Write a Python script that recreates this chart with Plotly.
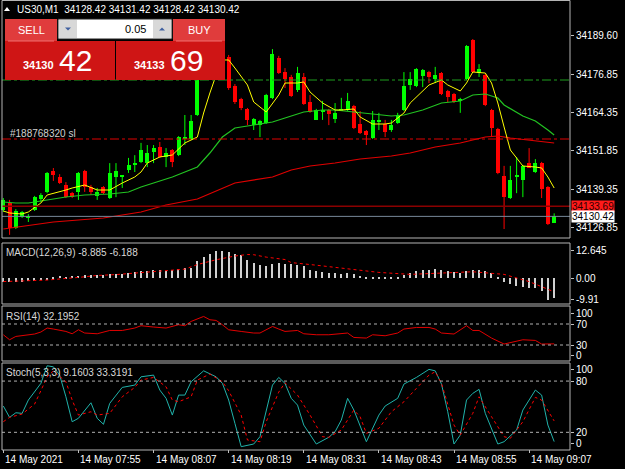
import plotly.graph_objects as go

# ---------------- data ----------------
# candle index 0 = 14 May 2021 07:43 (M1 bars)
bar_open = [34132.5, 34134.8, 34126.6, 34130.2, 34129.9, 34132.5, 34136.1, 34138.4, 34145.2, 34143.3,
            34140.7, 34138.0, 34138.4, 34145.2, 34140.0, 34137.1, 34140.0, 34136.4, 34143.3, 34143.3,
            34145.6, 34147.5, 34148.2, 34147.8, 34151.4, 34153.1, 34149.8, 34152.1, 34150.5, 34155.7,
            34155.7, 34163.5, 34177.5, 34183.1, 34186.0, 34183.1, 34182.4, 34173.0, 34168.7, 34165.5,
            34160.2, 34160.2, 34160.9, 34169.1, 34182.1, 34177.5, 34175.9, 34171.7, 34175.9, 34167.7,
            34161.9, 34164.8, 34165.1, 34162.2, 34165.1, 34165.1, 34166.4, 34160.6, 34158.3, 34156.0,
            34161.5, 34160.6, 34158.6, 34160.9, 34165.1, 34173.3, 34173.0, 34176.2, 34177.5, 34175.3,
            34177.2, 34171.3, 34170.4, 34168.1, 34175.3, 34188.0, 34177.2, 34176.6, 34165.1, 34158.9,
            34143.6, 34136.4, 34143.3, 34142.3, 34147.8, 34144.9, 34147.8, 34140.0, 34128.42]
bar_high = [34136.4, 34135.8, 34132.8, 34132.2, 34131.2, 34137.1, 34138.0, 34144.9, 34146.2, 34144.2,
            34141.6, 34138.4, 34144.9, 34145.6, 34140.7, 34139.7, 34140.3, 34147.8, 34147.8, 34143.9,
            34149.5, 34150.4, 34154.4, 34153.7, 34153.7, 34154.7, 34152.7, 34152.4, 34156.6, 34163.5,
            34163.5, 34178.2, 34184.7, 34188.0, 34188.0, 34186.7, 34183.1, 34173.6, 34169.1, 34165.8,
            34162.5, 34161.9, 34170.4, 34185.0, 34182.8, 34178.8, 34176.6, 34179.2, 34177.2, 34170.0,
            34165.5, 34168.1, 34165.5, 34167.4, 34169.1, 34170.7, 34166.8, 34164.8, 34158.6, 34164.8,
            34164.2, 34161.9, 34161.9, 34164.2, 34177.5, 34177.5, 34178.8, 34178.5, 34177.9, 34179.2,
            34177.5, 34171.7, 34170.7, 34169.1, 34186.3, 34188.3, 34180.1, 34176.9, 34165.5, 34159.3,
            34146.9, 34146.9, 34149.8, 34147.2, 34152.7, 34149.1, 34148.2, 34140.3, 34131.42]
bar_low = [34131.9, 34124.4, 34126.3, 34129.9, 34128.6, 34132.2, 34135.1, 34138.0, 34142.0, 34141.0,
           34136.4, 34136.4, 34135.8, 34138.4, 34137.4, 34135.8, 34137.7, 34136.1, 34136.7, 34139.7,
           34144.6, 34144.9, 34147.8, 34146.5, 34147.8, 34149.5, 34146.5, 34146.5, 34150.1, 34153.7,
           34155.3, 34163.2, 34176.6, 34182.1, 34182.8, 34182.4, 34171.7, 34167.1, 34165.1, 34160.2,
           34158.6, 34156.3, 34160.6, 34168.7, 34176.9, 34172.3, 34169.4, 34171.0, 34166.8, 34164.2,
           34161.9, 34161.9, 34160.2, 34160.9, 34165.1, 34164.8, 34158.9, 34157.3, 34153.7, 34155.7,
           34158.6, 34156.3, 34158.0, 34160.6, 34164.8, 34171.7, 34172.6, 34172.6, 34173.9, 34173.9,
           34170.0, 34167.7, 34167.4, 34164.2, 34174.9, 34177.2, 34175.9, 34166.4, 34156.3, 34144.2,
           34126.3, 34136.1, 34138.0, 34136.7, 34146.2, 34144.6, 34136.4, 34127.6, 34128.42]
bar_close = [34135.8, 34126.6, 34132.2, 34131.9, 34130.5, 34136.7, 34137.4, 34144.6, 34143.9, 34141.3,
             34136.7, 34136.7, 34144.6, 34140.0, 34138.4, 34138.4, 34138.0, 34144.6, 34145.2, 34143.6,
             34147.2, 34147.8, 34152.1, 34151.1, 34152.7, 34149.8, 34151.1, 34148.2, 34156.3, 34156.3,
             34161.5, 34177.5, 34183.1, 34186.3, 34184.1, 34185.4, 34172.3, 34167.7, 34165.8, 34161.9,
             34162.2, 34161.5, 34170.0, 34183.4, 34177.2, 34175.3, 34169.7, 34177.2, 34167.1, 34164.5,
             34165.1, 34165.1, 34163.8, 34164.2, 34165.5, 34168.1, 34159.3, 34157.6, 34157.0, 34161.9,
             34161.9, 34158.0, 34160.2, 34163.5, 34173.0, 34175.3, 34178.5, 34178.2, 34175.9, 34176.6,
             34170.4, 34169.4, 34167.7, 34168.4, 34186.0, 34177.5, 34178.5, 34166.8, 34159.3, 34144.6,
             34136.7, 34142.3, 34143.6, 34146.9, 34146.2, 34147.8, 34139.4, 34127.9, 34130.42]

# moving averages: (bar index, price)
ma_fast_idx = [0, 1, 3, 4, 6, 7, 10, 11, 13, 15, 17, 19, 21, 22, 23, 25, 27, 29, 31, 32, 33, 34, 35, 36, 37,
               39, 40, 42, 44, 45, 47, 48, 49, 51, 53, 54, 56, 57, 59, 61, 62, 64, 65, 68, 70, 71, 73, 74,
               75, 77, 78, 79, 80, 81, 82, 83, 85, 86, 87, 88]
ma_fast_val = [34132.18, 34131.53, 34131.20, 34131.85, 34134.79, 34137.40, 34139.03, 34139.68, 34140.66,
               34139.03, 34139.03, 34141.31, 34143.27, 34144.90, 34147.84, 34149.80, 34150.45, 34154.36,
               34156.32, 34164.15, 34170.68, 34176.55, 34181.45, 34181.45, 34178.83, 34173.29, 34167.74,
               34164.48, 34170.03, 34173.94, 34173.94, 34174.27, 34171.00, 34167.42, 34165.13, 34165.13,
               34165.46, 34162.85, 34160.56, 34160.56, 34160.89, 34164.15, 34167.42, 34173.29, 34174.92,
               34173.29, 34171.33, 34173.94, 34177.53, 34177.20, 34173.94, 34167.42, 34159.59, 34152.08,
               34149.47, 34146.86, 34146.53, 34146.21, 34143.27, 34139.68]
ma_mid_idx = [0, 2, 4, 7, 10, 13, 17, 20, 22, 24, 27, 31, 33, 35, 37, 40, 43, 45, 48, 51, 53, 56, 59, 62,
              64, 67, 70, 73, 75, 77, 79, 80, 83, 85, 87, 88]
ma_mid_val = [34135.12, 34134.79, 34134.79, 34135.77, 34136.75, 34137.40, 34137.73, 34138.38, 34140.01,
              34141.31, 34143.27, 34146.53, 34151.10, 34156.32, 34159.26, 34160.24, 34161.22, 34162.52,
              34164.48, 34165.13, 34165.13, 34164.48, 34163.83, 34163.17, 34163.50, 34165.13, 34167.42,
              34168.07, 34170.03, 34170.35, 34169.05, 34166.76, 34163.17, 34161.54, 34158.61, 34156.97]
ma_slow_idx = [0, 8, 16, 22, 26, 31, 37, 43, 46, 49, 53, 57, 62, 65, 69, 73, 77, 79, 81, 85, 88]
ma_slow_val = [34126.31, 34128.59, 34129.90, 34131.85, 34134.14, 34136.09, 34141.31, 34143.27, 34145.56,
               34146.86, 34147.84, 34149.14, 34150.12, 34151.10, 34153.06, 34154.36, 34156.32, 34156.65,
               34156.00, 34155.02, 34154.36]

macd_main = [-1.8, -1.8, -1.8, -1.8, -1.4, -1.4, -1.0, -0.5, 0.7, 1.0,
             0.7, 1.0, 1.0, 1.4, 1.4, 1.4, 1.7, 2.1, 1.8, 2.1,
             2.4, 2.9, 3.5, 3.5, 3.8, 3.8, 3.5, 3.8, 4.2, 4.9,
             4.6, 7.8, 9.9, 11.3, 12.645, 12.6, 12.0, 11.3, 10.9, 8.5,
             7.0, 6.1, 5.6, 6.6, 7.0, 6.6, 6.4, 6.1, 5.6, 3.8,
             3.2, 3.0, 2.6, 2.3, 2.2, 2.4, 1.8, 1.0, 0.5, 0.6,
             0.6, 0.4, 0.4, 0.6, 1.6, 2.4, 3.2, 3.8, 4.0, 4.2,
             3.8, 3.3, 2.8, 2.4, 3.5, 3.8, 4.0, 3.4, 2.4, 0.6,
             -1.5, -2.7, -3.6, -4.0, -4.4, -4.6, -5.6, -9.91, -8.885]
macd_sig_idx = [0, 7, 12, 15, 18, 22, 25, 29, 31, 34, 37, 39, 40, 42, 45, 46, 50, 55, 60, 65, 70, 75, 80, 84, 88]
macd_sig_val = [-1.5, -0.8, 0.4, 1.3, 1.7, 2.5, 3.2, 4.2, 6.3, 8.5, 10.2, 10.9, 10.8, 9.7, 8.6, 7.2, 6.0,
                4.5, 2.7, 1.8, 2.5, 3.0, 1.8, -1.5, -6.188]

rsi_idx = [0, 1, 2, 3, 5, 6, 7, 8, 10, 11, 12, 13, 15, 17, 19, 21, 22, 24, 26, 28, 29, 30, 32, 33, 34, 35,
           36, 38, 40, 41, 43, 44, 45, 47, 48, 50, 52, 55, 56, 58, 59, 61, 63, 64, 66, 68, 69, 70, 72, 74,
           75, 76, 78, 80, 81, 83, 85, 86, 88]
rsi_val = [49.5, 40.0, 46.3, 47.6, 50.9, 54.7, 62.3, 60.4, 55.8, 51.4, 59.0, 52.8, 51.4, 57.7, 57.7, 62.3,
           66.7, 64.2, 62.3, 68.6, 66.7, 74.9, 84.4, 78.1, 76.8, 68.6, 59.0, 55.8, 52.8, 52.8, 65.3, 60.4,
           55.8, 57.7, 51.4, 49.5, 49.5, 52.8, 44.4, 43.2, 49.5, 47.6, 52.8, 60.4, 63.4, 63.4, 60.4, 52.8,
           50.9, 66.7, 57.7, 57.7, 43.2, 31.8, 34.9, 40.0, 38.7, 31.8, 32.1952]

stoch_k_idx = [0, 1, 2, 3, 4, 6, 7, 8, 9, 10, 11, 12, 14, 15, 16, 17, 19, 21, 22, 24, 25, 26, 27, 28, 29,
               30, 32, 34, 35, 36, 37, 38, 40, 41, 43, 44, 45, 46, 47, 48, 50, 52, 53, 54, 55, 56, 58, 60,
               61, 63, 64, 66, 68, 69, 70, 71, 72, 73, 74, 75, 76, 77, 79, 80, 82, 83, 85, 86, 87, 88]
stoch_k_val = [50.8, 37.5, 42.9, 42.2, 57.8, 77.3, 97.9, 96.7, 87.0, 61.6, 32.4, 36.4, 54.6, 36.4, 29.4,
               53.9, 72.6, 75.3, 85.0, 87.0, 69.5, 59.8, 40.2, 63.6, 63.6, 79.2, 92.0, 85.0, 77.3, 57.8,
               30.5, 3.2, 6.3, 14.9, 75.3, 84.3, 77.3, 59.8, 51.9, 28.5, 6.3, 14.2, 20.7, 34.4, 59.8, 46.1,
               9.0, 40.2, 50.8, 59.8, 76.5, 84.3, 93.7, 92.0, 76.5, 44.1, 6.3, 16.8, 57.8, 65.6, 70.3,
               42.2, 6.3, 9.0, 22.7, 46.1, 69.5, 63.6, 28.5, 9.1603]
stoch_d_idx = [0, 1, 3, 5, 6, 7, 8, 10, 11, 12, 14, 15, 17, 19, 21, 22, 24, 26, 27, 28, 30, 31, 33, 35,
               36, 38, 39, 41, 42, 44, 45, 47, 49, 51, 52, 54, 56, 57, 58, 60, 62, 64, 66, 68, 69, 70, 72,
               73, 75, 76, 78, 80, 81, 83, 85, 86, 88]
stoch_d_val = [32.4, 37.5, 41.4, 53.1, 68.7, 85.0, 92.0, 79.2, 57.8, 40.2, 44.1, 40.2, 42.2, 61.6, 72.6,
               81.2, 84.3, 73.3, 57.8, 55.8, 61.6, 81.2, 88.2, 79.2, 68.7, 40.2, 11.0, 9.0, 32.4, 67.1,
               78.0, 63.6, 40.2, 14.9, 14.2, 22.7, 46.1, 38.2, 18.8, 24.7, 44.1, 55.8, 71.5, 87.0, 90.9,
               77.3, 28.5, 16.8, 42.2, 61.6, 38.2, 14.9, 13.0, 32.4, 60.9, 57.8, 33.3191]

x_tick_idx = [0, 12, 24, 36, 48, 60, 72, 84]
x_tick_text = ["14 May 2021", "14 May 07:55", "14 May 08:07", "14 May 08:19",
               "14 May 08:31", "14 May 08:43", "14 May 08:55", "14 May 09:07"]
price_ticks = [34189.60, 34176.85, 34164.35, 34151.85, 34139.35, 34126.85]
sl_price = 34155.67
tp_price = 34174.92
bid_price = 34130.42
ask_price = 34133.69
macd_ticks = [12.645, 0.0, -9.91]
macd_tick_text = ["12.645", "0.00", "-9.91"]
rsi_ticks = [90.95, 70, 30, 10.95]
rsi_tick_text = ["100", "70", "30", "0"]
stoch_ticks = [93.7, 80, 20, 7.1]
stoch_tick_text = ["100", "80", "20", "0"]

# ---------------- layout geometry (pixels) ----------------
W, H = 625, 469
PW, PH = 570, 450            # plot area
FONT = "Liberation Sans"


def fy(py):
    return 1 - py / PH


def fx(px):
    return px / PW


fig = go.Figure()

n = len(bar_open)
idx = list(range(n))
up = [i for i in idx if bar_close[i] >= bar_open[i]]
dn = [i for i in idx if bar_close[i] < bar_open[i]]


def wick(ids):
    xs, ys = [], []
    for i in ids:
        xs += [i, i, None]
        ys += [bar_low[i], bar_high[i], None]
    return xs, ys


for ids, col in ((up, "#00FF00"), (dn, "#FF0000")):
    wx, wy = wick(ids)
    fig.add_trace(go.Scatter(x=wx, y=wy, mode="lines", line=dict(color=col, width=1),
                             xaxis="x", yaxis="y", hoverinfo="skip"))
    fig.add_trace(go.Bar(x=ids, base=[min(bar_open[i], bar_close[i]) for i in ids],
                         y=[max(abs(bar_close[i] - bar_open[i]), 0.3) for i in ids],
                         width=0.64, marker=dict(color=col, line=dict(width=0)),
                         xaxis="x", yaxis="y"))

fig.add_trace(go.Scatter(x=ma_slow_idx, y=ma_slow_val, mode="lines",
                         line=dict(color="#E00000", width=1.2), xaxis="x", yaxis="y"))
fig.add_trace(go.Scatter(x=ma_mid_idx, y=ma_mid_val, mode="lines",
                         line=dict(color="#22C322", width=1.2), xaxis="x", yaxis="y"))
fig.add_trace(go.Scatter(x=ma_fast_idx, y=ma_fast_val, mode="lines",
                         line=dict(color="#FFFF00", width=1), xaxis="x", yaxis="y"))

# MACD
fig.add_trace(go.Bar(x=idx, y=macd_main, width=0.2, marker=dict(color="#D0D0D0", line=dict(width=0)),
                     xaxis="x", yaxis="y2"))
fig.add_trace(go.Scatter(x=macd_sig_idx, y=macd_sig_val, mode="lines",
                         line=dict(color="#FF0000", width=1, dash="dot"), xaxis="x", yaxis="y2"))
# RSI
fig.add_trace(go.Scatter(x=rsi_idx, y=rsi_val, mode="lines",
                         line=dict(color="#E00000", width=1), xaxis="x", yaxis="y3"))
# Stochastic
fig.add_trace(go.Scatter(x=stoch_k_idx, y=stoch_k_val, mode="lines",
                         line=dict(color="#20B2AA", width=1), xaxis="x", yaxis="y4"))
fig.add_trace(go.Scatter(x=stoch_d_idx, y=stoch_d_val, mode="lines",
                         line=dict(color="#FF0000", width=1, dash="dot"), xaxis="x", yaxis="y4"))

XR = [-0.53, 90.53]
tickfont = dict(family=FONT, size=10, color="#FFFFFF")
yax_common = dict(side="right", showgrid=False, zeroline=False, showline=False, ticks="outside",
                  ticklen=3, tickcolor="#C0C0C0", tickfont=tickfont, tickmode="array", fixedrange=True)

fig.update_layout(
    width=W, height=H, paper_bgcolor="#000000", plot_bgcolor="#000000",
    margin=dict(l=0, r=W - PW, t=0, b=H - PH), showlegend=False, bargap=0,
    xaxis=dict(range=XR, anchor="y4", showgrid=False, zeroline=False, showline=False,
               tickmode="array", tickvals=x_tick_idx, ticks="outside", ticklen=3,
               tickcolor="#C0C0C0", showticklabels=False),
    yaxis=dict(domain=[fy(238), 1], range=[34201.02 - 0.32626 * 238, 34201.02],
               tickvals=price_ticks, ticktext=["%.2f" % v for v in price_ticks], **yax_common),
    yaxis2=dict(domain=[fy(303), fy(244)], range=[-11.31, 15.71], tickvals=macd_ticks,
                ticktext=macd_tick_text, **yax_common),
    yaxis3=dict(domain=[fy(360.75), fy(308.25)], range=[0, 100], tickvals=rsi_ticks,
                ticktext=rsi_tick_text, **yax_common),
    yaxis4=dict(domain=[fy(449.4), fy(364)], range=[0, 100], tickvals=stoch_ticks,
                ticktext=stoch_tick_text, **yax_common),
)

shapes = []
ann = []


def hline(yref, yv, color, dash, width=1):
    shapes.append(dict(type="line", xref="paper", yref=yref, x0=fx(2), x1=1, y0=yv, y1=yv,
                       line=dict(color=color, width=width, dash=dash), layer="above"))


hline("y", tp_price, "#1E9E1E", "dashdot")
hline("y", sl_price, "#E00000", "dashdot")
hline("y", ask_price, "#8B0000", "solid", 1.5)
hline("y", bid_price, "#778899", "solid", 1)
hline("y3", 70, "#B0B0B0", "dot")
hline("y3", 30, "#B0B0B0", "dot")
hline("y4", 80, "#B0B0B0", "dot")
hline("y4", 20, "#B0B0B0", "dot")

# panel frames
for top, bot in ((0.5, 238), (243, 304), (306, 361), (363, 450)):
    shapes.append(dict(type="rect", xref="paper", yref="paper", x0=fx(2), x1=1, y0=fy(bot), y1=fy(top),
                       line=dict(color="#B4B4B4", width=1), fillcolor="rgba(0,0,0,0)", layer="above"))


def prect(x0, y0, x1, y1, fill, line=None):
    shapes.append(dict(type="rect", xref="paper", yref="paper", x0=fx(x0), x1=fx(x1), y0=fy(y1), y1=fy(y0),
                       fillcolor=fill, line=dict(width=1 if line else 0, color=line or fill), layer="above"))


# one-click trading panel
prect(5, 19, 57, 41, "#E03C3C")
prect(173, 19, 225, 41, "#E03C3C")
prect(5, 41, 115, 80, "#CF1515")
prect(116, 41, 225, 80, "#CF1515")
prect(8, 40.5, 54, 41.5, "#F07070")
prect(176, 40.5, 222, 41.5, "#F07070")
prect(58, 19, 172, 39, "#FFFFFF", "#202020")
prect(59, 20, 77, 38, "#D8D8D8")
prect(153, 20, 171, 38, "#D8D8D8")
for cx, d in ((68, 1), (162, -1)):
    x0, x1 = cx - 3, cx + 3
    ya, yb = (27.5, 30.5) if d == 1 else (30.5, 27.5)
    shapes.append(dict(type="path", xref="paper", yref="paper",
                       path="M %f %f L %f %f L %f %f Z" % (fx(x0), fy(ya), fx(x1), fy(ya), fx(cx), fy(yb)),
                       fillcolor="#4060A0", line=dict(width=0), layer="above"))
# title triangle
shapes.append(dict(type="path", xref="paper", yref="paper",
                   path="M %f %f L %f %f L %f %f Z" % (fx(4), fy(11), fx(10), fy(11), fx(7), fy(7)),
                   fillcolor="#FFFFFF", line=dict(width=0), layer="above"))

fig.update_layout(shapes=shapes)


def text(px, py, s, size=10, color="#FFFFFF", anchor="left", bold=False, bg=None):
    ann.append(dict(xref="paper", yref="paper", x=fx(px), y=fy(py), text=("<b>%s</b>" % s) if bold else s,
                    showarrow=False, xanchor=anchor, yanchor="middle",
                    font=dict(family=FONT, size=size, color=color),
                    bgcolor=bg, borderpad=0))


text(16, 9, "US30,M1  34128.42 34131.42 34128.42 34130.42", 10)
text(31, 30, "SELL", 11, anchor="center")
text(199, 30, "BUY", 11, anchor="center")
text(147, 29, "0.05", 11, color="#000000", anchor="right")
text(38, 65, "34130", 11, anchor="center", bold=True)
text(75, 61, "42", 30, anchor="center")
text(149, 65, "34133", 11, anchor="center", bold=True)
text(186, 61, "69", 30, anchor="center")
text(9, 133, "#188768320 sl", 10, color="#D0D0D0")
text(5, 252, "MACD(12,26,9) -8.885 -6.188", 10, color="#D8D8D8")
text(5, 316, "RSI(14) 32.1952", 10, color="#D8D8D8")
text(5, 372, "Stoch(5,3,3) 9.1603 33.3191", 10, color="#D8D8D8")
# price tags on the axis
text(571, 206, "34133.69", 10, color="#300000", bg="#FF1A1A")
text(571, 216.5, "34130.42", 10, color="#000000", bg="#FFFFFF")
# time labels
for i, s in zip(x_tick_idx, x_tick_text):
    px = (i - XR[0]) / (XR[1] - XR[0]) * PW
    text(px + 1, 459, s, 10)

fig.update_layout(annotations=ann)
fig.write_html("out.html")
